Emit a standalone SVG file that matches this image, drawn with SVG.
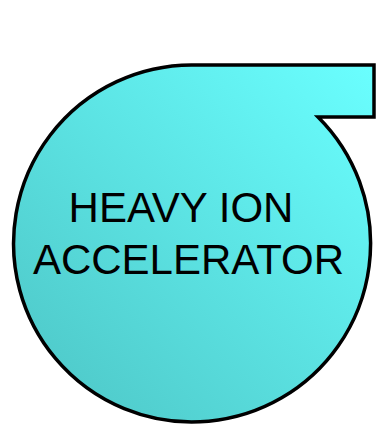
<svg xmlns="http://www.w3.org/2000/svg" width="377" height="424" viewBox="0 0 377 424">
<defs>
<linearGradient id="g" x1="1" y1="0" x2="0" y2="1">
<stop offset="0" stop-color="#6affff"/>
<stop offset="1" stop-color="#4cc4c4"/>
</linearGradient>
<style>
.shape{fill:url(#g);stroke:#000;stroke-width:3.5;stroke-linejoin:miter}
.lbl{font-family:"Liberation Sans",Arial,sans-serif;font-size:42px;fill:#000;text-anchor:middle}
</style>
</defs>
<g id="heavy-ion-accelerator">
<path class="shape" d="M191.5,65 L374,65 L374,117 L318,117 A178.5,178.5 0 1 1 191.5,65 Z"/>
<text class="lbl" x="181" y="222">HEAVY ION</text>
<text class="lbl" x="188.5" y="274">ACCELERATOR</text>
</g>
<g id="connectors"/>
</svg>
